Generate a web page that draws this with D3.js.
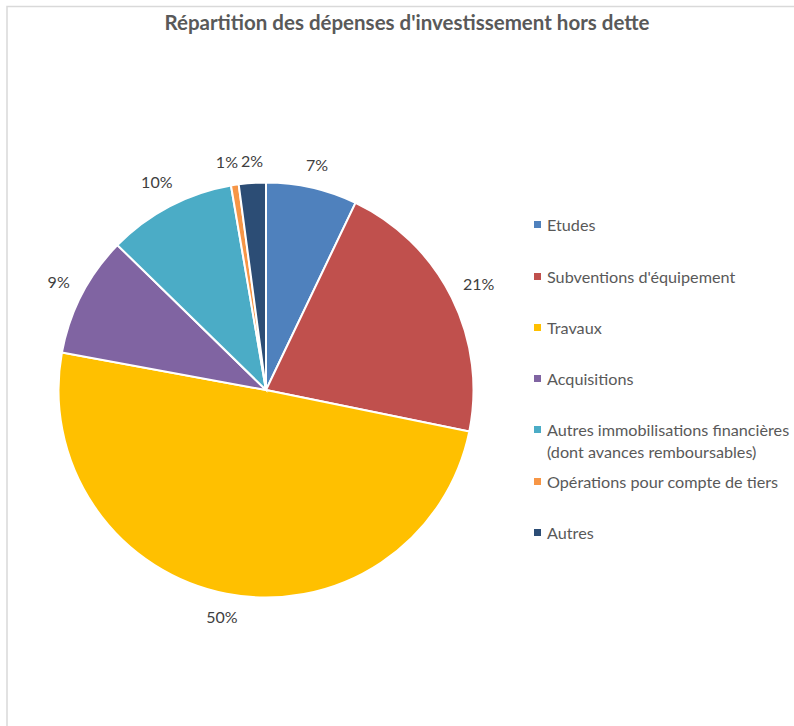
<!DOCTYPE html>
<html><head><meta charset="utf-8">
<script src="https://cdn.jsdelivr.net/npm/d3@7"></script>
<style>body{margin:0;background:#fff}svg{display:block}</style>
</head><body>
<svg id="c" width="794" height="726"></svg>
<script>
const categories = ["Etudes","Subventions d'équipement","Travaux","Acquisitions","Autres immobilisations financières (dont avances remboursables)","Opérations pour compte de tiers","Autres"];
const legendLines = [["Etudes"],["Subventions d'équipement"],["Travaux"],["Acquisitions"],["Autres immobilisations financières","(dont avances remboursables)"],["Opérations pour compte de tiers"],["Autres"]];
const values = [7.1, 21.1, 49.7, 9.4, 10.0, 0.6, 2.1];
const labels = ["7%","21%","50%","9%","10%","1%","2%"];
const colors = ["#4F81BD","#C0504D","#FFC000","#8064A2","#4BACC6","#F79646","#2C4D75"];
const title = "Répartition des dépenses d'investissement hors dette";

const svg = d3.select("#c");
const font = "Lato, 'Open Sans', sans-serif";
// chart border
svg.append("path").attr("d","M7,726 V6.5 H794").attr("fill","none").attr("stroke","#D9D9D9").attr("stroke-width",1.5);

svg.append("text").attr("x",407).attr("y",30).attr("text-anchor","middle")
  .attr("font-family",font).attr("font-weight","bold").attr("font-size",20.5).attr("fill","#595959").text(title);

const cx=266, cy=390, r=207.5;
const pie = d3.pie().sort(null).value(d=>d)(values);
const arc = d3.arc().innerRadius(0).outerRadius(r);
const g = svg.append("g").attr("transform",`translate(${cx},${cy})`);
g.selectAll("path").data(pie).join("path").attr("d",arc)
  .attr("fill",(d,i)=>colors[i]).attr("stroke","#fff").attr("stroke-width",2);

const fs=16;
const txt = g.selectAll("text.lbl").data(pie).join("text").attr("class","lbl")
  .attr("text-anchor","middle").attr("font-family",font).attr("font-size",fs).attr("fill","#404040")
  .attr("dy","0.35em").text((d,i)=>labels[i]);
const pos = [];
txt.each(function(d,i){
  const w=this.getComputedTextLength(), h=18;
  const a=(d.startAngle+d.endAngle)/2;
  const s=Math.sin(a), c=Math.cos(a);
  const rr=r+12+Math.abs(s)*w/2+Math.abs(c)*h/2;
  pos[i]={x:rr*s, y:-rr*c, w:w, h:h};
});
// nudge overlapping labels apart horizontally
for (let k=0;k<4;k++){
  for (let i=0;i<pos.length;i++) for (let j=i+1;j<pos.length;j++){
    const A=pos[i],B=pos[j];
    const ox=(A.w+B.w)/2+3-Math.abs(A.x-B.x), oy=(A.h+B.h)/2-Math.abs(A.y-B.y);
    if (ox>0 && oy>0){
      const L = A.x<B.x?A:B, R = A.x<B.x?B:A;
      L.x-=ox*0.8; R.x+=ox*0.2;
    }
  }
}
txt.attr("x",(d,i)=>pos[i].x).attr("y",(d,i)=>pos[i].y);

const legendY=[225,277,328,379,430,482,533];
const lg=svg.append("g");
legendLines.forEach((lines,i)=>{
  lg.append("rect").attr("x",534).attr("y",legendY[i]-4).attr("width",7).attr("height",7).attr("fill",colors[i]);
  lines.forEach((t,j)=>{
    lg.append("text").attr("x",547).attr("y",legendY[i]+j*22).attr("dy","0.35em")
      .attr("font-family",font).attr("font-size",16.2).attr("fill","#595959").text(t);
  });
});
</script>
</body></html>
